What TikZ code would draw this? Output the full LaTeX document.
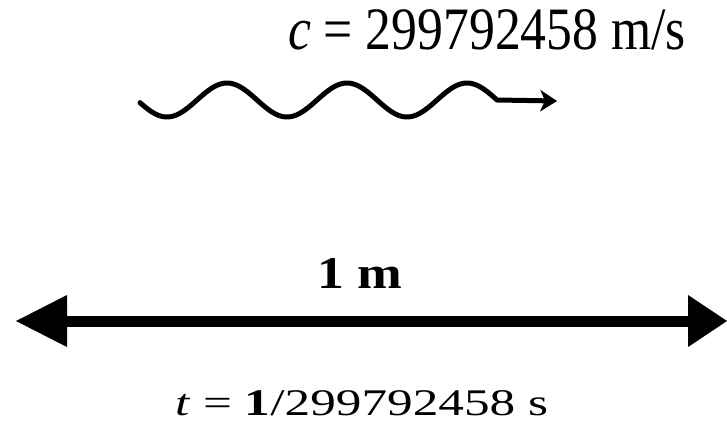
\documentclass[tikz,border=0pt]{standalone}
\usepackage{fontspec}
\setmainfont{Liberation Serif}
\usetikzlibrary{arrows.meta}
\begin{document}
\begin{tikzpicture}[x=1pt,y=-1pt,
  txt/.style={inner sep=0pt,outer sep=0pt,anchor=base west},
  wave/.style={line width=5pt,line cap=round,line join=round},
  span/.style={line width=11pt}]
\useasboundingbox (0,0) rectangle (727,428);
\node[txt] (speed) at (288,50) {\resizebox{398pt}{40pt}{\textit{c} = 299792458 m/s}};
\coordinate (wend) at (557,101);
\draw[wave,-{Stealth[length=17pt,width=22pt,inset=5pt,line width=0pt]}]
  plot[domain=140:497,samples=120,smooth] (\x,{100-17*cos(3*(\x-227))}) -- (wend);
\node[txt] (dist) at (317,288) {\resizebox{85pt}{30pt}{\bfseries 1 m}};
\coordinate (L) at (16,321);
\coordinate (R) at (727,321);
\draw[span,{Triangle[length=51pt,width=52pt,line width=0pt]}-{Triangle[length=39pt,width=52pt,line width=0pt]}] (L) -- (R);
\node[txt] (time) at (175,415) {\resizebox{373pt}{25pt}{\textit{t} = \textbf{1}/299792458 s}};
\end{tikzpicture}
\end{document}
